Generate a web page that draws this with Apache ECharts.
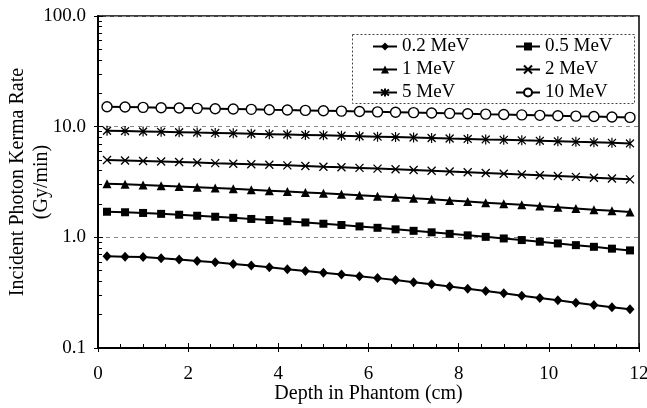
<!DOCTYPE html>
<html>
<head>
<meta charset="utf-8">
<script src="https://cdn.jsdelivr.net/npm/echarts@6/dist/echarts.min.js"></script>
<style>html,body{margin:0;padding:0;background:#fff}#chart{width:647px;height:408px}</style>
</head>
<body>
<div id="chart"></div>
<script>
const depth = [0.2,0.6,1.0,1.4,1.8,2.2,2.6,3.0,3.4,3.8,4.2,4.6,5.0,5.4,5.8,6.2,6.6,7.0,7.4,7.8,8.2,8.6,9.0,9.4,9.8,10.2,10.6,11.0,11.4,11.8];
const kerma_0_2 = [0.673,0.668,0.663,0.648,0.630,0.610,0.594,0.575,0.556,0.537,0.516,0.497,0.479,0.461,0.445,0.428,0.411,0.393,0.376,0.359,0.343,0.327,0.312,0.297,0.283,0.270,0.257,0.245,0.234,0.224];
const kerma_0_5 = [1.703,1.685,1.661,1.630,1.600,1.567,1.535,1.500,1.466,1.433,1.398,1.363,1.327,1.292,1.255,1.219,1.181,1.145,1.110,1.075,1.042,1.010,0.977,0.945,0.913,0.881,0.850,0.821,0.790,0.762];
const kerma_1 = [3.05,3.018,2.975,2.931,2.883,2.835,2.788,2.742,2.692,2.642,2.592,2.544,2.497,2.446,2.395,2.346,2.297,2.250,2.203,2.154,2.105,2.058,2.011,1.966,1.917,1.870,1.824,1.779,1.735,1.692];
const kerma_2 = [4.99,4.94,4.89,4.84,4.79,4.74,4.68,4.63,4.58,4.52,4.47,4.41,4.35,4.30,4.24,4.18,4.12,4.06,4.00,3.94,3.88,3.82,3.76,3.70,3.64,3.58,3.52,3.46,3.40,3.34];
const kerma_5 = [9.18,9.12,9.05,8.98,8.91,8.84,8.78,8.71,8.63,8.56,8.49,8.42,8.35,8.27,8.20,8.12,8.05,7.98,7.90,7.82,7.75,7.67,7.60,7.52,7.45,7.37,7.29,7.22,7.14,7.06];
const kerma_10 = [15.14,15.04,14.94,14.84,14.74,14.64,14.54,14.44,14.34,14.23,14.13,14.03,13.93,13.82,13.72,13.61,13.51,13.40,13.30,13.19,13.09,12.98,12.88,12.77,12.66,12.56,12.45,12.35,12.24,12.13];
const seriesNames = ['0.2 MeV','0.5 MeV','1 MeV','2 MeV','5 MeV','10 MeV'];
const yTickValues = [0.1, 1, 10, 100];
const yTickLabels = ['0.1','1.0','10.0','100.0'];
const yMinorTicks = [0.2,0.3,0.4,0.5,0.6,0.7,0.8,0.9,2,3,4,5,6,7,8,9,20,30,40,50,60,70,80,90];
const xTicks = [0,2,4,6,8,10,12];

const FONT = 'Liberation Serif, Times New Roman, serif';
const black = '#000';

function pairs(ys){ return depth.map((d,i)=>[d, ys[i]]); }

const symbolDefs = [
  {symbol:'diamond', size:[9,10], item:{color:black}},
  {symbol:'rect', size:8, item:{color:black}},
  {symbol:'triangle', size:9, item:{color:black}},
  {symbol:'path://M0,0L10,10M10,0L0,10', size:8, item:{color:'rgba(0,0,0,0)', borderColor:black, borderWidth:1.3}},
  {symbol:'path://M0,0L10,10M10,0L0,10M5,-1.5L5,11.5', size:[8,10], item:{color:'rgba(0,0,0,0)', borderColor:black, borderWidth:1.3}},
  {symbol:'circle', size:10, item:{color:'#fff', borderColor:black, borderWidth:1.4}}
];
const allData = [kerma_0_2, kerma_0_5, kerma_1, kerma_2, kerma_5, kerma_10];

const series = allData.map((ys, k) => ({
  name: seriesNames[k],
  type: 'line',
  xAxisIndex: 0, yAxisIndex: 0,
  data: pairs(ys),
  symbol: symbolDefs[k].symbol,
  symbolSize: symbolDefs[k].size,
  itemStyle: symbolDefs[k].item,
  lineStyle: {color: black, width: 2},
  showSymbol: true,
  z: 3
}));

const legendCommon = {
  orient: 'vertical',
  itemWidth: 24, itemHeight: 10, itemGap: 4,
  padding: 0,
  selectedMode: false,
  textStyle: {fontFamily: FONT, fontSize: 19, color: black}
};

const chart = echarts.init(document.getElementById('chart'), null, {renderer:'canvas'});
chart.setOption({
  animation: false,
  backgroundColor: '#fff',
  grid: {left: 98, right: 8, top: 16, bottom: 60, show: true, borderColor: black, borderWidth: 1.5, backgroundColor: 'transparent', outerBoundsMode: 'none', containLabel: false},
  legend: [
    Object.assign({}, legendCommon, {data: [seriesNames[0], seriesNames[2], seriesNames[4]], left: 372, top: 37}),
    Object.assign({}, legendCommon, {data: [seriesNames[1], seriesNames[3], seriesNames[5]], left: 515, top: 37})
  ],
  graphic: [{
    type: 'rect', left: 350, top: 32, z: 10,
    shape: {width: 282, height: 69},
    style: {fill: 'none', stroke: '#444', lineWidth: 1, lineDash: [2, 2]}
  }],
  xAxis: [
    {
      type: 'value', min: xTicks[0], max: xTicks[xTicks.length-1], interval: 2,
      position: 'bottom',
      axisLine: {lineStyle: {color: black, width: 2}},
      axisTick: {inside: true, length: 5, lineStyle: {color: black, width: 1}},
      minorTick: {show: true, splitNumber: 4, length: 4, lineStyle: {color: black, width: 1}},
      axisLabel: {margin: 17, fontFamily: FONT, fontSize: 19, color: black},
      splitLine: {show: false},
      name: 'Depth in Phantom (cm)', nameLocation: 'middle', nameGap: 36, nameMoveOverlap: false,
      nameTextStyle: {fontFamily: FONT, fontSize: 20, color: black}
    },
    {
      type: 'value', min: xTicks[0], max: xTicks[xTicks.length-1], interval: 2,
      position: 'bottom',
      axisLine: {show: false},
      axisTick: {inside: false, length: 4, lineStyle: {color: black, width: 1}},
      axisLabel: {show: false},
      splitLine: {show: false}
    }
  ],
  yAxis: [
    {
      type: 'log', logBase: 10, min: yTickValues[0], max: yTickValues[yTickValues.length-1],
      position: 'left',
      axisLine: {lineStyle: {color: black, width: 2}},
      axisTick: {inside: true, length: 5, lineStyle: {color: black, width: 1}},
      axisLabel: {
        margin: 12, fontFamily: FONT, fontSize: 19, color: black,
        formatter: function(v){
          const i = yTickValues.findIndex(t => Math.abs(Math.log10(t) - Math.log10(v)) < 1e-6);
          return i >= 0 ? yTickLabels[i] : '';
        }
      },
      splitLine: {show: true, lineStyle: {color: '#888', width: 1, type: [4, 4]}},
      name: 'Incident Photon Kerma Rate\n(Gy/min)', nameLocation: 'middle', nameGap: 44, nameMoveOverlap: false,
      nameTextStyle: {fontFamily: FONT, fontSize: 20, color: black, lineHeight: 24}
    },
    {
      type: 'log', logBase: 10, min: yTickValues[0], max: yTickValues[yTickValues.length-1],
      position: 'left',
      axisLine: {show: false},
      axisTick: {inside: false, length: 4, lineStyle: {color: black, width: 1}},
      axisLabel: {show: false},
      splitLine: {show: false}
    },
    {
      type: 'log', logBase: 10, min: yTickValues[0], max: yTickValues[yTickValues.length-1],
      position: 'left',
      axisLine: {show: false},
      axisTick: {inside: true, length: 4, customValues: yMinorTicks, lineStyle: {color: black, width: 1}},
      axisLabel: {show: false},
      splitLine: {show: false}
    }
  ],
  series: series
});
</script>
</body>
</html>
